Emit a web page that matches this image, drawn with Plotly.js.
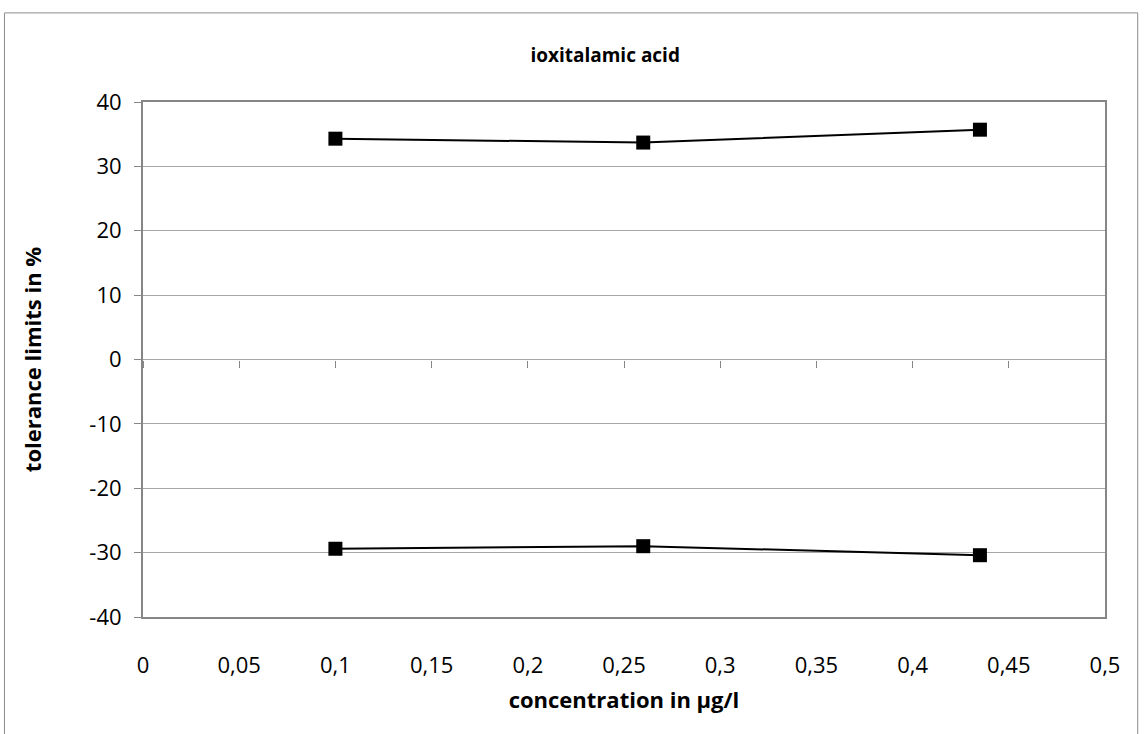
<!DOCTYPE html>
<html>
<head>
<meta charset="utf-8">
<script src="https://cdn.plot.ly/plotly-3.0.1.min.js"></script>
<style>html,body{margin:0;padding:0;background:#fff;}#chart{width:1144px;height:734px;}</style>
</head>
<body>
<div id="chart"></div>
<script>
const concentration = [0.1, 0.26, 0.435];
const upperLimit = [34.3, 33.7, 35.7];
const lowerLimit = [-29.4, -29.0, -30.4];
const xTickVals = [0, 0.05, 0.1, 0.15, 0.2, 0.25, 0.3, 0.35, 0.4, 0.45, 0.5];
const xTickText = ["0", "0,05", "0,1", "0,15", "0,2", "0,25", "0,3", "0,35", "0,4", "0,45", "0,5"];
const yTickVals = [-40, -30, -20, -10, 0, 10, 20, 30, 40];
const yTickText = ["-40", "-30", "-20", "-10", "0", "10", "20", "30", "40"];

const fontFam = "Open Sans, Liberation Sans, sans-serif";
const lineStyle = {color: '#000', width: 2};
const markerStyle = {symbol: 'square', size: 14, color: '#000'};

const traces = [
  {x: concentration, y: upperLimit, mode: 'lines+markers', line: lineStyle, marker: markerStyle, showlegend: false, hoverinfo: 'skip'},
  {x: concentration, y: lowerLimit, mode: 'lines+markers', line: lineStyle, marker: markerStyle, showlegend: false, hoverinfo: 'skip'},
  {x: [0, 0.5], y: [0, 0], xaxis: 'x2', mode: 'lines', line: {width: 0}, showlegend: false, hoverinfo: 'skip'}
];

const layout = {
  width: 1144, height: 734,
  paper_bgcolor: '#fff', plot_bgcolor: '#fff',
  margin: {l: 143, r: 39, t: 102, b: 117},
  font: {family: fontFam, color: '#000'},
  title: {text: '<b>ioxitalamic acid</b>', font: {size: 19, family: fontFam, color: '#000'}, x: 0.529, xanchor: 'center', y: 0.925, yref: 'container', yanchor: 'middle'},
  xaxis: {
    range: [0, 0.5], tickvals: xTickVals, ticktext: xTickText,
    showgrid: false, zeroline: false, ticks: '', showline: true, linecolor: '#868686', linewidth: 2, mirror: true,
    tickfont: {size: 22, family: fontFam}, ticklabelstandoff: 28,
    title: {text: '<b>concentration in µg/l</b>', font: {size: 22, family: fontFam}, standoff: 14}
  },
  xaxis2: {
    range: [0, 0.5], tickvals: xTickVals, overlaying: 'x', anchor: 'free', position: 0.5,
    showticklabels: false, ticks: 'outside', ticklen: 7, tickcolor: '#868686', tickwidth: 1,
    showgrid: false, zeroline: false, showline: false
  },
  yaxis: {
    range: [-40, 40], tickvals: yTickVals, ticktext: yTickText, showgrid: true, gridcolor: '#a6a6a6', gridwidth: 1,
    zeroline: true, zerolinecolor: '#a6a6a6', zerolinewidth: 1,
    showline: true, linecolor: '#868686', linewidth: 2, mirror: true,
    ticks: 'outside', ticklen: 7, tickcolor: '#868686',
    tickfont: {size: 22, family: fontFam}, ticklabelstandoff: 8,
    title: {text: '<b>tolerance limits in %</b>', font: {size: 22, family: fontFam}, standoff: 42}
  },
  shapes: [
    {type: 'rect', xref: 'paper', yref: 'paper', x0: -0.144, x1: 1.034, y0: -0.25, y1: 1.173, line: {color: '#8c8c8c', width: 1}, fillcolor: 'rgba(0,0,0,0)', layer: 'below'}
  ]
};

Plotly.newPlot('chart', traces, layout, {displayModeBar: false, staticPlot: true});
</script>
</body>
</html>
